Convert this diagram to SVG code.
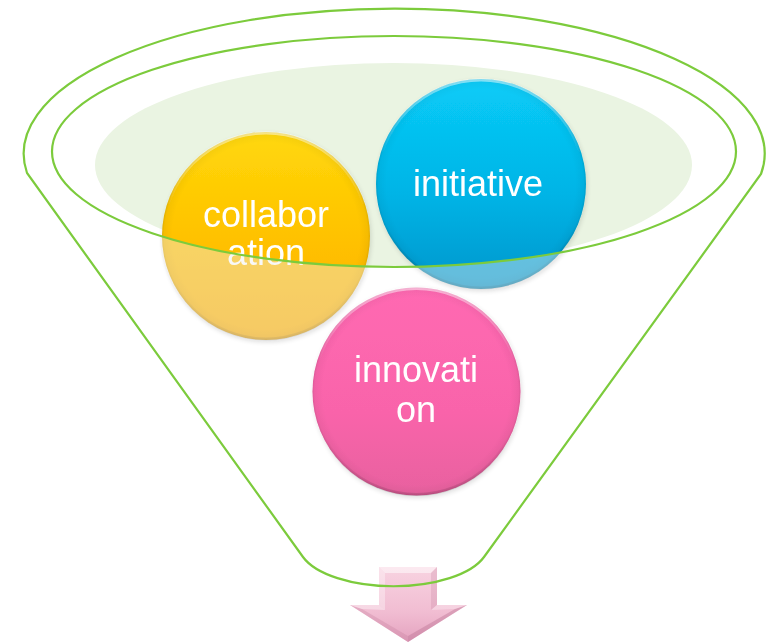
<svg xmlns="http://www.w3.org/2000/svg" width="771" height="644" viewBox="0 0 771 644">
  <defs>
    <style>
      .outline { fill: none; stroke: #7CCB3C; stroke-width: 2.2; }
      .label { font-family: "Liberation Sans", Arial, sans-serif; font-size: 36px; fill: #FFFFFF; text-anchor: middle; }
      .rim { fill: url(#edgeShade); }
      .veil { fill: #EEEEEE; fill-opacity: 0.42; }
    </style>
    <linearGradient id="gYellow" x1="0" y1="0" x2="0" y2="1">
      <stop offset="0" stop-color="#FFD80A"/>
      <stop offset="0.55" stop-color="#FFC000"/>
      <stop offset="1" stop-color="#FBAE00"/>
    </linearGradient>
    <linearGradient id="gBlue" x1="0" y1="0" x2="0" y2="1">
      <stop offset="0" stop-color="#08CCF8"/>
      <stop offset="0.55" stop-color="#03B4E6"/>
      <stop offset="1" stop-color="#0396CC"/>
    </linearGradient>
    <linearGradient id="gPink" x1="0" y1="0" x2="0" y2="1">
      <stop offset="0" stop-color="#FF69B2"/>
      <stop offset="0.6" stop-color="#F964AA"/>
      <stop offset="1" stop-color="#E8619F"/>
    </linearGradient>
    <radialGradient id="edgeShade" cx="0.5" cy="0.5" r="0.5">
      <stop offset="0.9" stop-color="#000000" stop-opacity="0"/>
      <stop offset="0.98" stop-color="#000000" stop-opacity="0.04"/>
      <stop offset="1" stop-color="#000000" stop-opacity="0.12"/>
    </radialGradient>
    <linearGradient id="bevel" x1="0" y1="0" x2="0" y2="1">
      <stop offset="0" stop-color="#FFFFFF" stop-opacity="0.5"/>
      <stop offset="0.35" stop-color="#FFFFFF" stop-opacity="0"/>
      <stop offset="0.7" stop-color="#000000" stop-opacity="0"/>
      <stop offset="1" stop-color="#000000" stop-opacity="0.12"/>
    </linearGradient>
    <linearGradient id="gArrow" x1="0" y1="0" x2="0" y2="1">
      <stop offset="0" stop-color="#F8D3E1"/>
      <stop offset="0.6" stop-color="#F1BDD2"/>
      <stop offset="1" stop-color="#E4A2BF"/>
    </linearGradient>
    <filter id="soft" x="-10%" y="-10%" width="125%" height="125%">
      <feGaussianBlur in="SourceAlpha" stdDeviation="2.5"/>
      <feOffset dx="1" dy="2" result="b"/>
      <feComponentTransfer><feFuncA type="linear" slope="0.14"/></feComponentTransfer>
      <feMerge><feMergeNode/><feMergeNode in="SourceGraphic"/></feMerge>
    </filter>
    <!-- front wall of the funnel: whole outline minus the open mouth -->
    <clipPath id="frontWall">
      <path clip-rule="evenodd"
            d="M27,173 A370.5,145 0 1 1 761,174 L484,557 A95,42 0 0 1 303,557 Z
               M52,151.5 A342,115.5 0 1 0 736,151.5 A342,115.5 0 1 0 52,151.5 Z"/>
    </clipPath>
  </defs>

  <rect width="771" height="644" fill="#FFFFFF"/>

  <!-- mouth of the funnel -->
  <ellipse id="mouth" cx="393.5" cy="165" rx="298.5" ry="102" fill="#EAF4E2"/>

  <!-- circles sitting inside the funnel -->
  <g id="collaboration" filter="url(#soft)">
    <circle cx="266" cy="236" r="104" fill="url(#gYellow)"/>
    <circle cx="266" cy="236" r="104" class="rim"/>
    <circle cx="266" cy="236" r="103" fill="none" stroke="url(#bevel)" stroke-width="3"/>
    <text class="label" x="266" y="227">collabor</text>
    <text class="label" x="266" y="265">ation</text>
  </g>

  <g id="initiative" filter="url(#soft)">
    <circle cx="481" cy="184" r="105" fill="url(#gBlue)"/>
    <circle cx="481" cy="184" r="105" class="rim"/>
    <circle cx="481" cy="184" r="104" fill="none" stroke="url(#bevel)" stroke-width="3"/>
    <text class="label" x="478" y="196">initiative</text>
  </g>

  <!-- translucent front wall dims whatever lies behind it -->
  <g id="funnel" clip-path="url(#frontWall)">
    <circle class="veil" cx="266" cy="236" r="106"/>
    <circle class="veil" cx="481" cy="184" r="107"/>
  </g>

  <g id="innovation" filter="url(#soft)">
    <circle cx="416.5" cy="391.5" r="104" fill="url(#gPink)"/>
    <circle cx="416.5" cy="391.5" r="104" class="rim"/>
    <circle cx="416.5" cy="391.5" r="103" fill="none" stroke="url(#bevel)" stroke-width="3"/>
    <text class="label" x="416" y="382">innovati</text>
    <text class="label" x="416" y="422">on</text>
  </g>

  <!-- output arrow -->
  <g id="arrow">
    <path d="M379,567 L437,567 L437,605 L467,605 L408,642 L350,605 L379,605 Z" fill="url(#gArrow)"/>
    <path d="M379,567 L437,567 L431,573 L385,573 Z" fill="#FFFFFF" fill-opacity="0.5"/>
    <path d="M379,567 L385,573 L385,610 L379,605 Z" fill="#FFFFFF" fill-opacity="0.35"/>
    <path d="M437,567 L431,573 L431,610 L437,605 Z" fill="#C98AA6" fill-opacity="0.3"/>
    <path d="M350,605 L362,609 L408,636 L408,642 Z" fill="#C27D9C" fill-opacity="0.3"/>
    <path d="M467,605 L455,609 L408,636 L408,642 Z" fill="#B87092" fill-opacity="0.4"/>
    <path d="M350,605 L379,605 L385,610 L362,609 Z" fill="#FFFFFF" fill-opacity="0.4"/>
    <path d="M467,605 L437,605 L431,610 L455,609 Z" fill="#FFFFFF" fill-opacity="0.3"/>
  </g>

  <!-- funnel outlines -->
  <g id="connectors">
    <path class="outline" d="M27,173 A370.5,145 0 1 1 761,174 L484,557 A95,42 0 0 1 303,557 Z"/>
    <ellipse class="outline" cx="394" cy="151.5" rx="342" ry="115.5"/>
  </g>
</svg>
